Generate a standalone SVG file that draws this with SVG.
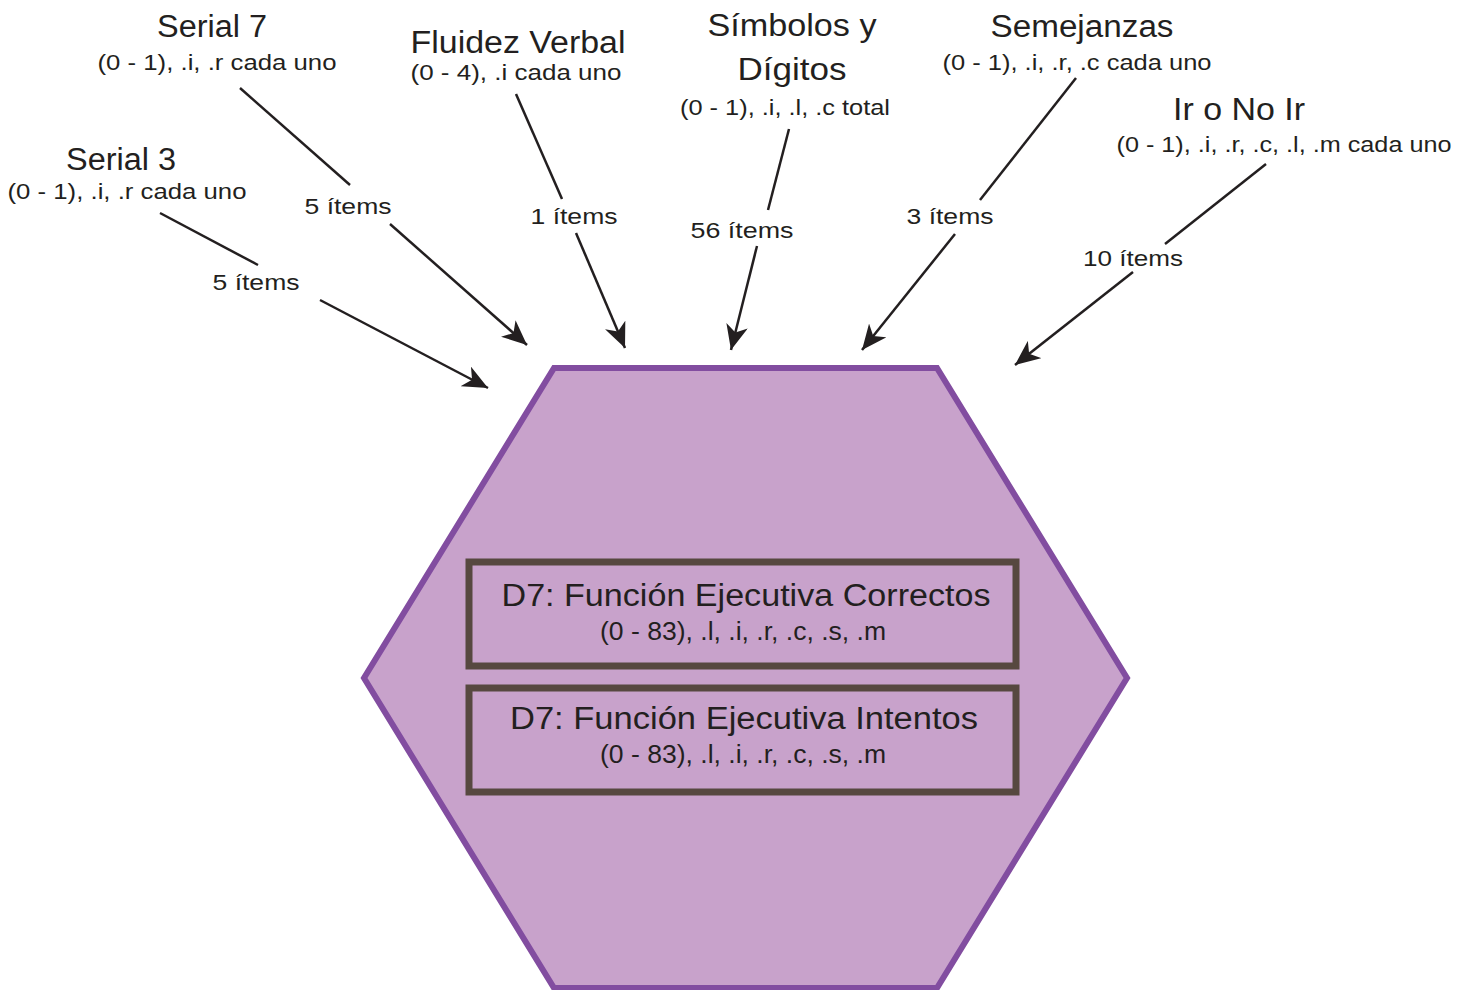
<svg xmlns="http://www.w3.org/2000/svg" width="1472" height="990" viewBox="0 0 1472 990">
<style>
text{font-family:"Liberation Sans",Arial,sans-serif;fill:#231F20;text-anchor:middle}
.t{font-size:31px}
.s{font-size:22px}
.l{font-size:22px}
.bt{font-size:31px}
.bs{font-size:25px}
.c{fill:none;stroke:#231F20;stroke-width:2.5}
.box{fill:none;stroke:#574840;stroke-width:7}
</style>
<defs>
<marker id="ah" markerUnits="userSpaceOnUse" markerWidth="26" markerHeight="22" viewBox="0 0 26 22" refX="25" refY="11" orient="auto">
<path d="M0,0 L25,11 L0,22 L7,11 Z" fill="#231F20"/>
</marker>
</defs>
<rect width="1472" height="990" fill="#ffffff"/>
<g id="hexagon">
<polygon points="554,368 937,368 1127,678 937,988 554,988 364,678" fill="#C8A2CB" stroke="#824DA0" stroke-width="6"/>
</g>
<g id="box-correctos">
<rect class="box" x="469" y="562" width="547" height="104"/>
<text class="bt" x="746" y="606" textLength="489" lengthAdjust="spacingAndGlyphs">D7: Función Ejecutiva Correctos</text>
<text class="bs" x="743" y="640" textLength="286" lengthAdjust="spacingAndGlyphs">(0 - 83), .l, .i, .r, .c, .s, .m</text>
</g>
<g id="box-intentos">
<rect class="box" x="469" y="688" width="547" height="104"/>
<text class="bt" x="744" y="729" textLength="468" lengthAdjust="spacingAndGlyphs">D7: Función Ejecutiva Intentos</text>
<text class="bs" x="743" y="763" textLength="286" lengthAdjust="spacingAndGlyphs">(0 - 83), .l, .i, .r, .c, .s, .m</text>
</g>
<g id="serial7">
<text class="t" x="212" y="37" textLength="110" lengthAdjust="spacingAndGlyphs">Serial 7</text>
<text class="s" x="217" y="70" textLength="239" lengthAdjust="spacingAndGlyphs">(0 - 1), .i, .r cada uno</text>
</g>
<g id="serial3">
<text class="t" x="121" y="170" textLength="110" lengthAdjust="spacingAndGlyphs">Serial 3</text>
<text class="s" x="127" y="199" textLength="239" lengthAdjust="spacingAndGlyphs">(0 - 1), .i, .r cada uno</text>
</g>
<g id="fluidez">
<text class="t" x="518" y="53" textLength="215" lengthAdjust="spacingAndGlyphs">Fluidez Verbal</text>
<text class="s" x="516" y="80" textLength="211" lengthAdjust="spacingAndGlyphs">(0 - 4), .i cada uno</text>
</g>
<g id="simbolos">
<text class="t" x="792" y="36" textLength="169" lengthAdjust="spacingAndGlyphs">Símbolos y</text>
<text class="t" x="792" y="80" textLength="109" lengthAdjust="spacingAndGlyphs">Dígitos</text>
<text class="s" x="785" y="115" textLength="210" lengthAdjust="spacingAndGlyphs">(0 - 1), .i, .l, .c total</text>
</g>
<g id="semejanzas">
<text class="t" x="1082" y="37" textLength="183" lengthAdjust="spacingAndGlyphs">Semejanzas</text>
<text class="s" x="1077" y="70" textLength="269" lengthAdjust="spacingAndGlyphs">(0 - 1), .i, .r, .c cada uno</text>
</g>
<g id="ir-no-ir">
<text class="t" x="1239" y="120" textLength="132" lengthAdjust="spacingAndGlyphs">Ir o No Ir</text>
<text class="s" x="1284" y="152" textLength="335" lengthAdjust="spacingAndGlyphs">(0 - 1), .i, .r, .c, .l, .m cada uno</text>
</g>
<g id="connectors">
<line class="c" x1="240" y1="88" x2="350" y2="185"/>
<line class="c" x1="390" y1="224" x2="527" y2="345" marker-end="url(#ah)"/>
<text class="l" x="348" y="214" textLength="87" lengthAdjust="spacingAndGlyphs">5 ítems</text>
<line class="c" x1="160" y1="213" x2="258" y2="265"/>
<line class="c" x1="320" y1="300" x2="488" y2="388" marker-end="url(#ah)"/>
<text class="l" x="256" y="290" textLength="87" lengthAdjust="spacingAndGlyphs">5 ítems</text>
<line class="c" x1="516" y1="94" x2="562" y2="199"/>
<line class="c" x1="576" y1="233" x2="625" y2="348" marker-end="url(#ah)"/>
<text class="l" x="574" y="224" textLength="87" lengthAdjust="spacingAndGlyphs">1 ítems</text>
<line class="c" x1="789" y1="129" x2="768" y2="210"/>
<line class="c" x1="757" y1="246" x2="731" y2="350" marker-end="url(#ah)"/>
<text class="l" x="742" y="238" textLength="103" lengthAdjust="spacingAndGlyphs">56 ítems</text>
<line class="c" x1="1076" y1="78" x2="980" y2="200"/>
<line class="c" x1="955" y1="234" x2="862" y2="350" marker-end="url(#ah)"/>
<text class="l" x="950" y="224" textLength="87" lengthAdjust="spacingAndGlyphs">3 ítems</text>
<line class="c" x1="1266" y1="164" x2="1165" y2="244"/>
<line class="c" x1="1133" y1="272" x2="1015" y2="365" marker-end="url(#ah)"/>
<text class="l" x="1133" y="266" textLength="100" lengthAdjust="spacingAndGlyphs">10 ítems</text>
</g>
</svg>
